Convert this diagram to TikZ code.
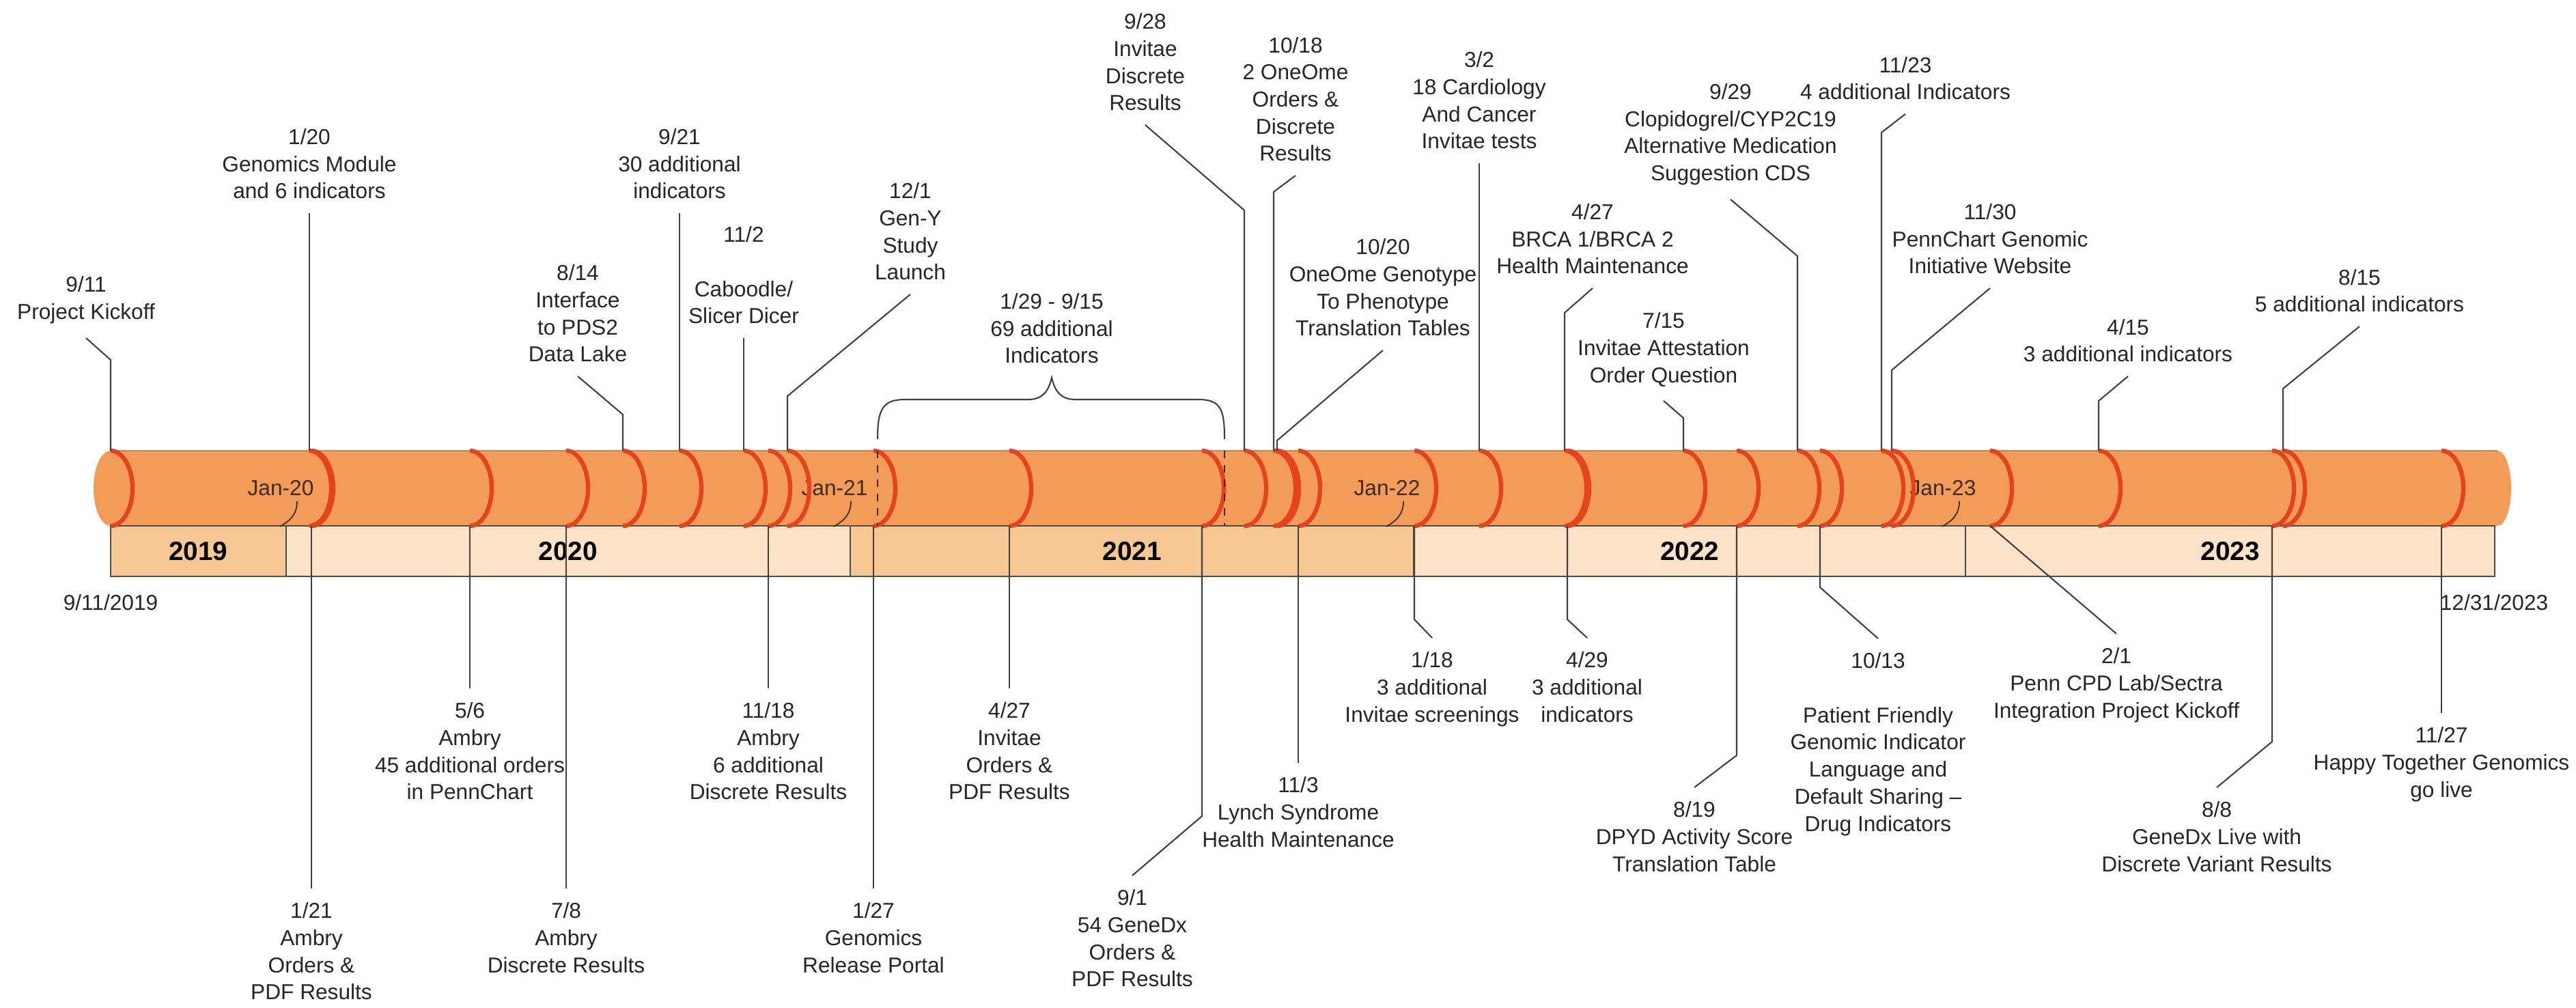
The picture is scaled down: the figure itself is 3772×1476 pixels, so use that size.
\documentclass[tikz,border=0pt]{standalone}
\usepackage{fontspec}
\setmainfont{Liberation Sans}
\usepackage{tikz}

\definecolor{tube}{HTML}{F39C5A}
\definecolor{tubeedge}{HTML}{D0844A}
\definecolor{ringred}{HTML}{E5431C}
\definecolor{yeardark}{HTML}{F8C894}
\definecolor{yearlight}{HTML}{FCE2C6}
\definecolor{ink}{HTML}{262626}
\definecolor{janink}{HTML}{3F2A1E}

\begin{document}
\begin{tikzpicture}
  [x=0.01cm, y=-0.01cm,
   evt/.style={align=center, inner sep=0.2cm, text=ink, font=\fontsize{9}{11.3}\selectfont},
   up/.style={evt, anchor=south},
   down/.style={evt, anchor=north},
   lead/.style={draw=black!75, line width=0.6pt},
   ring/.style={draw=ringred, line width=1.8pt},
   yearbox/.style={draw=black!70, line width=0.7pt},
   yearlbl/.style={inner sep=0, font=\bfseries\fontsize{11}{13}\selectfont},
   jan/.style={inner sep=0, text=janink, font=\fontsize{9}{11}\selectfont}]
  \useasboundingbox (0,0) rectangle (3772,1476);

  % the tube
  \fill[tube] (162,660) -- (3657,660)
    arc[start angle=90, end angle=-90, x radius=0.2cm, y radius=0.55cm]
    -- (162,770)
    arc[start angle=270, end angle=90, x radius=0.25cm, y radius=0.55cm] -- cycle;
  \draw[tubeedge, line width=0.6pt] (162,660) -- (3657,660);

  % year band
  \foreach \a/\b/\yr/\col in {162/419/2019/yeardark, 419/1245/2020/yearlight,
      1245/2070/2021/yeardark, 2070/2878/2022/yearlight, 2878/3653/2023/yearlight} {
    \draw[yearbox, fill=\col] (\a,770) rectangle (\b,844);
    \node[yearlbl] (y\yr) at ({(\a+\b)/2},807) {\yr};
  }

  % month tags
  \foreach \n/\x/\t in {j20/411/Jan-20, j21/1222/Jan-21, j22/2031/Jan-22, j23/2845/Jan-23} {
    \node[jan] (\n) at (\x,715) {\t};
    \draw[janink, line width=0.5pt] (\n.south) ++(24,7)
      .. controls +(0,20) and +(14,-8) .. ++(-25,37);
  }

  % rings, upper events
  \foreach \n/\x in {kick/162, gmod/453, pds/912, ind30/995, cab/1089, geny/1153,
      inv928/1822, one1018/1865, one1020/1870, card/2166, brca/2291, att/2465,
      clop/2632, ind4/2755, web/2770, ind3/3073, ind5/3343} {
    \coordinate (\n) at (\x,660);
    \draw[ring] (\n) arc[start angle=90, end angle=-90, x radius=0.32cm, y radius=0.55cm];
  }
  % rings, lower events
  \foreach \n/\x in {amb121/456, amb56/688, amb78/829, amb1118/1125, portal/1279,
      inv427/1478, gdx91/1760, lynch/1901, scr118/2071, ind429/2295, dpyd/2543,
      pat/2665, cpd/2914, gdx88/3327, happy/3575} {
    \coordinate (\n) at (\x,770);
    \draw[ring] (\x,660) arc[start angle=90, end angle=-90, x radius=0.32cm, y radius=0.55cm];
  }

  % 2021 indicator span
  \draw[janink, line width=0.8pt, dashed] (1285,660) -- (1285,770);
  \draw[janink, line width=0.8pt, dashed] (1793,660) -- (1793,770);
  \node[up] (span) at (1540,553) {1/29 - 9/15\\69 additional\\Indicators};
  \draw[lead] (1285,643) .. controls (1285,600) and (1292,585) .. (1325,585)
    -- (1505,585) .. controls (1525,585) and (1535,575) .. (span.south)
    .. controls (1545,575) and (1555,585) .. (1575,585)
    -- (1755,585) .. controls (1788,585) and (1793,600) .. (1793,643);

  % events above
  \node[up] (e-kick) at (126,495) {9/11\\Project Kickoff};
  \draw[lead] (kick) -- ++(0,-133) -- (e-kick.south);
  \node[up] (e-gmod) at (453,312) {1/20\\Genomics Module\\and 6 indicators};
  \draw[lead] (gmod) -- (e-gmod.south);
  \node[up] (e-pds) at (846,551) {8/14\\Interface\\to PDS2\\Data Lake};
  \draw[lead] (pds) -- ++(0,-53) -- (e-pds.south);
  \node[up] (e-ind30) at (995,312) {9/21\\30 additional\\indicators};
  \draw[lead] (ind30) -- (e-ind30.south);
  \node[up] (e-cab) at (1089,495) {11/2\\[11.3pt]Caboodle/\\Slicer Dicer};
  \draw[lead] (cab) -- (e-cab.south);
  \node[up] (e-geny) at (1333,431) {12/1\\Gen-Y\\Study\\Launch};
  \draw[lead] (geny) -- ++(0,-80) -- (e-geny.south);
  \node[up] (e-inv928) at (1677,183) {9/28\\Invitae\\Discrete\\Results};
  \draw[lead] (inv928) -- ++(0,-352) -- (e-inv928.south);
  \node[up] (e-one1018) at (1897,257) {10/18\\2 OneOme\\Orders \&\\Discrete\\Results};
  \draw[lead] (one1018) -- ++(0,-379) -- (e-one1018.south);
  \node[up] (e-one1020) at (2025,513) {10/20\\OneOme Genotype\\To Phenotype\\Translation Tables};
  \draw[lead] (one1020) -- ++(0,-15) -- (e-one1020.south);
  \node[up] (e-card) at (2166,239) {3/2\\18 Cardiology\\And Cancer\\Invitae tests};
  \draw[lead] (card) -- (e-card.south);
  \node[up] (e-brca) at (2332,422) {4/27\\BRCA 1/BRCA 2\\Health Maintenance};
  \draw[lead] (brca) -- ++(0,-202) -- (e-brca.south);
  \node[up] (e-att) at (2436,587) {7/15\\Invitae Attestation\\Order Question};
  \draw[lead] (att) -- ++(0,-48) -- (e-att.south);
  \node[up] (e-clop) at (2534,292) {9/29\\Clopidogrel/CYP2C19\\Alternative Medication\\Suggestion CDS};
  \draw[lead] (clop) -- ++(0,-285) -- (e-clop.south);
  \node[up] (e-ind4) at (2790,167) {11/23\\4 additional Indicators};
  \draw[lead] (ind4) -- ++(0,-466) -- (e-ind4.south);
  \node[up] (e-web) at (2914,422) {11/30\\PennChart Genomic\\Initiative Website};
  \draw[lead] (web) -- ++(0,-118) -- (e-web.south);
  \node[up] (e-ind3) at (3116,551) {4/15\\3 additional indicators};
  \draw[lead] (ind3) -- ++(0,-73) -- (e-ind3.south);
  \node[up] (e-ind5) at (3455,478) {8/15\\5 additional indicators};
  \draw[lead] (ind5) -- ++(0,-91) -- (e-ind5.south);

  % events below
  \node[down] (e-amb121) at (456,1301) {1/21\\Ambry\\Orders \&\\PDF Results};
  \draw[lead] (amb121) -- (e-amb121.north);
  \node[down] (e-amb56) at (688,1008) {5/6\\Ambry\\45 additional orders\\in PennChart};
  \draw[lead] (amb56) -- (e-amb56.north);
  \node[down] (e-amb78) at (829,1301) {7/8\\Ambry\\Discrete Results};
  \draw[lead] (amb78) -- (e-amb78.north);
  \node[down] (e-amb1118) at (1125,1008) {11/18\\Ambry\\6 additional\\Discrete Results};
  \draw[lead] (amb1118) -- (e-amb1118.north);
  \node[down] (e-portal) at (1279,1301) {1/27\\Genomics\\Release Portal};
  \draw[lead] (portal) -- (e-portal.north);
  \node[down] (e-inv427) at (1478,1008) {4/27\\Invitae\\Orders \&\\PDF Results};
  \draw[lead] (inv427) -- (e-inv427.north);
  \node[down] (e-gdx91) at (1658,1282) {9/1\\54 GeneDx\\Orders \&\\PDF Results};
  \draw[lead] (gdx91) -- ++(0,425) -- (e-gdx91.north);
  \node[down] (e-lynch) at (1901,1117) {11/3\\Lynch Syndrome\\Health Maintenance};
  \draw[lead] (lynch) -- (e-lynch.north);
  \node[down] (e-scr118) at (2097,934) {1/18\\3 additional\\Invitae screenings};
  \draw[lead] (scr118) -- ++(0,137) -- (e-scr118.north);
  \node[down] (e-ind429) at (2324,934) {4/29\\3 additional\\indicators};
  \draw[lead] (ind429) -- ++(0,137) -- (e-ind429.north);
  \node[down] (e-dpyd) at (2481,1153) {8/19\\DPYD Activity Score\\Translation Table};
  \draw[lead] (dpyd) -- ++(0,336) -- (e-dpyd.north);
  \node[down] (e-pat) at (2750,935) {10/13\\[11.3pt]Patient Friendly\\Genomic Indicator\\Language and\\Default Sharing --\\Drug Indicators};
  \draw[lead] (pat) -- ++(0,90) -- (e-pat.north);
  \node[down] (e-cpd) at (3099,928) {2/1\\Penn CPD Lab/Sectra\\Integration Project Kickoff};
  \draw[lead] (cpd) -- (e-cpd.north);
  \node[down] (e-gdx88) at (3246,1153) {8/8\\GeneDx Live with\\Discrete Variant Results};
  \draw[lead] (gdx88) -- ++(0,316) -- (e-gdx88.north);
  \node[down] (e-happy) at (3575,1044) {11/27\\Happy Together Genomics\\go live};
  \draw[lead] (happy) -- (e-happy.north);

  % start and end dates
  \node[evt, inner sep=0] (start) at (162,882) {9/11/2019};
  \node[evt, inner sep=0] (finish) at (3652,882) {12/31/2023};
\end{tikzpicture}
\end{document}
